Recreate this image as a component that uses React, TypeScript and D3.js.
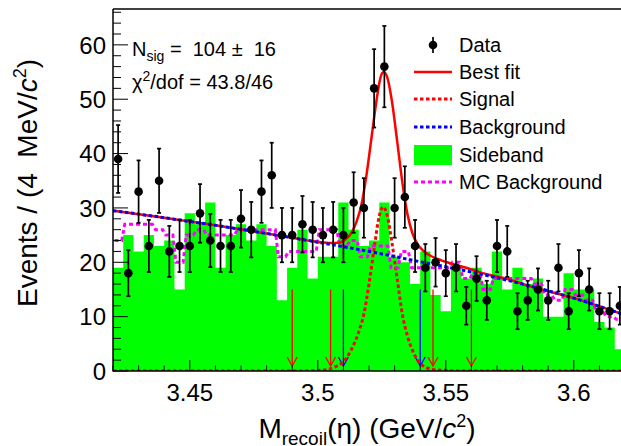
import React from "react";
import * as d3 from "d3";

// binning: 50 bins of 4 MeV from 3.42 to 3.62 GeV
const binLow = 3.42;
const binWidth = 0.004;

// data counts per bin
const dataCounts = [39, 18, 33, 23, 35, 22, 23, 23, 29, 24, 23, 23, 28, 26, 33, 36, 25, 25, 27, 26,
  25, 26, 25, 31, 30, 52, 56, 30, 32, 23, 19, 20, 18, 19, 12, 17, 13, 23, 22, 11,
  13, 15, 13, 19, 11, 18, 15, 11, 11, 12];

// sideband histogram
const sideband = [19, 25, 22, 25, 23, 24, 15, 29, 27, 31, 19, 25, 27, 24, 27, 23, 13, 19, 26, 17,
  21, 21, 31, 26, 23, 24, 31, 21, 20, 16, 22, 14, 11, 19, 17, 19, 16, 22, 15, 19,
  16, 17, 10, 10, 18, 15, 15, 9, 8, 4];

// MC background shape per bin
const mcBkg = [24, 27, 27, 27, 26, 25, 20, 25, 26, 25, 25, 25, 26, 26, 26, 26, 21, 22, 22, 22,
  26, 26, 23, 24, 21, 23, 23, 19, 22, 19, 19, 19, 19, 20, 17, 18, 15, 17, 17, 17,
  17, 16, 14, 13, 15, 14, 13, 11, 10, 9.5];

// fitted background curve
const bkgX = [3.42, 3.44, 3.46, 3.48, 3.50, 3.52, 3.54, 3.56, 3.58, 3.60, 3.62];
const bkgY = [29.5, 28.2, 26.8, 25.3, 23.7, 22.0, 20.1, 18.2, 16.0, 13.4, 10.3];

// best fit (total) curve
const fitX = [3.42, 3.44, 3.46, 3.48, 3.49, 3.50, 3.505, 3.508, 3.511, 3.513, 3.515, 3.517, 3.519,
  3.521, 3.523, 3.5245, 3.5257, 3.527, 3.529, 3.531, 3.533, 3.535, 3.537, 3.539, 3.541,
  3.544, 3.548, 3.552, 3.558, 3.566, 3.575, 3.58, 3.60, 3.62];
const fitY = [29.5, 28.2, 26.8, 25.3, 24.5, 23.75, 23.55, 23.6, 24.3, 25.3, 27.3, 30.5, 36.0,
  43.0, 50.0, 54.0, 55.0, 54.2, 49.5, 42.3, 34.8, 28.9, 25.3, 23.3, 22.2,
  21.2, 20.4, 19.8, 19.0, 17.8, 16.8, 16.0, 13.4, 10.3];

// signal component
const sigX = [3.42, 3.495, 3.50, 3.504, 3.507, 3.51, 3.512, 3.514, 3.516, 3.518, 3.52, 3.522, 3.524,
  3.5255, 3.527, 3.529, 3.531, 3.533, 3.535, 3.537, 3.539, 3.541, 3.545, 3.55, 3.555, 3.62];
const sigY = [0, 0, 0.1, 0.3, 0.8, 1.7, 3.0, 4.8, 7.2, 10.5, 16.0, 22.5, 28.5,
  30.2, 28.8, 23.5, 17.0, 10.5, 6.5, 3.8, 2.0, 1.0, 0.3, 0.1, 0, 0];

// signal-region / sideband arrows
const redArrows = [3.49, 3.505, 3.545, 3.56];
const blueArrows = [3.51, 3.54];
const arrowTop = 15;

const xTicks = [3.45, 3.5, 3.55, 3.6];
const yTicks = [0, 10, 20, 30, 40, 50, 60];

const legendItems = ["Data", "Best fit", "Signal", "Background", "Sideband", "MC Background"];

const font = "'Liberation Sans', Arial, Helvetica, sans-serif";

export default function App() {
  const W = 621, H = 446;
  const x = d3.scaleLinear().domain([3.42, 3.62]).range([113, 625]);
  const y = d3.scaleLinear().domain([0, 66.6]).range([371, 9]);

  const line = d3.line<[number, number]>()
    .x(d => x(d[0]))
    .y(d => y(d[1]))
    .curve(d3.curveMonotoneX);

  const bins = d3.range(dataCounts.length).map(i => binLow + i * binWidth);

  // sideband as a step area
  const stepPts: [number, number][] = [];
  sideband.forEach((v, i) => {
    stepPts.push([bins[i], v]);
    stepPts.push([bins[i] + binWidth, v]);
  });
  const area = d3.area<[number, number]>()
    .x(d => x(d[0]))
    .y0(y(0))
    .y1(d => y(d[1]));

  // MC background drawn as a smoothed step
  const mcPts: [number, number][] = [];
  mcBkg.forEach((v, i) => {
    mcPts.push([bins[i] + binWidth * 0.15, v]);
    mcPts.push([bins[i] + binWidth * 0.85, v]);
  });
  const lin = d3.line<[number, number]>().x(d => x(d[0])).y(d => y(d[1]));

  const zip = (a: number[], b: number[]) => a.map((v, i) => [v, b[i]] as [number, number]);

  const xMinor = d3.range(3.42, 3.6201, 0.01);
  const yMinor = d3.range(0, 66.6, 2);

  const arrow = (ax: number, color: string, k: string) => {
    const px = x(ax);
    const tip = y(0) - 5;
    return (
      <g key={k} stroke={color} strokeWidth={1.3} fill="none">
        <line x1={px} x2={px} y1={y(arrowTop)} y2={tip} />
        <path d={`M${px - 5},${tip - 9}L${px},${tip}L${px + 5},${tip - 9}`} />
      </g>
    );
  };

  const legX0 = 414, legX1 = 452, legTx = 459;
  const legY = [45, 72, 99, 127, 155, 182];

  return (
    <div style={{ position: "fixed", left: 0, top: 0 }}>
      <svg width={W} height={H} style={{ display: "block", background: "#fff" }} fontFamily={font}>
        <defs>
          <clipPath id="plot">
            <rect x={113} y={9} width={512} height={362} />
          </clipPath>
        </defs>
        <g clipPath="url(#plot)">
          <path d={area(stepPts) || ""} fill="#00ff00" />
          {redArrows.map((a, i) => arrow(a, "#ff0000", "r" + i))}
          {blueArrows.map((a, i) => arrow(a, "#0000ff", "b" + i))}
          <path d={line(zip(sigX, sigY)) || ""} fill="none" stroke="#ff0000" strokeWidth={3} strokeDasharray="3.5 2.5" />
          <path d={lin(mcPts) || ""} fill="none" stroke="#ff00ff" strokeWidth={3} strokeDasharray="4 3" />
          <path d={line(zip(fitX, fitY)) || ""} fill="none" stroke="#ff0000" strokeWidth={2.5} />
          <path d={line(zip(bkgX, bkgY)) || ""} fill="none" stroke="#0000ff" strokeWidth={3} strokeDasharray="3.5 2.5" />
          {dataCounts.map((n, i) => {
            const cx = x(bins[i] + binWidth / 2);
            const e = Math.sqrt(n);
            return (
              <g key={"d" + i} stroke="#000" strokeWidth={1.7}>
                <line x1={cx} x2={cx} y1={y(n + e)} y2={y(n - e)} />
                <line x1={cx - 2} x2={cx + 2} y1={y(n + e)} y2={y(n + e)} />
                <line x1={cx - 2} x2={cx + 2} y1={y(n - e)} y2={y(n - e)} />
                <circle cx={cx} cy={y(n)} r={4.3} fill="#000" stroke="none" />
              </g>
            );
          })}
        </g>

        {/* frame */}
        <g stroke="#000" fill="none">
          <line x1={113} x2={625} y1={9} y2={9} strokeWidth={1.5} />
          <line x1={113} x2={113} y1={9} y2={371.5} strokeWidth={1.5} />
          <line x1={113} x2={625} y1={371} y2={371} strokeWidth={1.5} />
          {xMinor.map((t, i) => {
            const major = xTicks.some(m => Math.abs(m - t) < 1e-6);
            return <line key={"xt" + i} x1={x(t)} x2={x(t)} y1={371} y2={371 - (major ? 11 : 5.5)} strokeWidth={1} />;
          })}
          {yMinor.map((t, i) => {
            const major = t % 10 === 0;
            return <line key={"yt" + i} x1={113} x2={113 + (major ? 15 : 8)} y1={y(t)} y2={y(t)} strokeWidth={1} />;
          })}
        </g>

        {/* tick labels */}
        <g fontSize={24} fill="#000">
          {xTicks.map(t => (
            <text key={"xl" + t} x={x(t)} y={401} textAnchor="middle">{t}</text>
          ))}
          {yTicks.map(t => (
            <text key={"yl" + t} x={106} y={y(t)} dy="0.36em" textAnchor="end">{t}</text>
          ))}
        </g>

        {/* axis titles */}
        <text x={367} y={438} fontSize={28} textAnchor="middle" xmlSpace="preserve">
          <tspan>M</tspan>
          <tspan fontSize={19} dy={7}>recoil</tspan>
          <tspan dy={-7}>(η) (GeV/</tspan>
          <tspan fontStyle="italic">c</tspan>
          <tspan fontSize={18} dy={-11}>2</tspan>
          <tspan dy={11}>)</tspan>
        </text>
        <text transform="translate(37,183) rotate(-90)" fontSize={28} textAnchor="middle" xmlSpace="preserve">
          <tspan>Events / (4  MeV/</tspan>
          <tspan fontStyle="italic">c</tspan>
          <tspan fontSize={18} dy={-11}>2</tspan>
          <tspan dy={11}>)</tspan>
        </text>

        {/* fit results */}
        <text x={132} y={56} fontSize={20} xmlSpace="preserve">
          <tspan>N</tspan>
          <tspan fontSize={14} dy={5}>sig</tspan>
          <tspan dy={-5}> =  104 ±  16</tspan>
        </text>
        <text x={132} y={89} fontSize={20}>
          <tspan>χ</tspan>
          <tspan fontSize={14} dy={-8}>2</tspan>
          <tspan dy={8}>/dof = 43.8/46</tspan>
        </text>

        {/* legend */}
        <g>
          <line x1={433} x2={433} y1={legY[0] - 8} y2={legY[0] + 8} stroke="#000" strokeWidth={1.7} />
          <circle cx={433} cy={legY[0]} r={4.3} fill="#000" />
          <line x1={legX0} x2={legX1} y1={legY[1]} y2={legY[1]} stroke="#ff0000" strokeWidth={2.5} />
          <line x1={legX0} x2={legX1} y1={legY[2]} y2={legY[2]} stroke="#ff0000" strokeWidth={3} strokeDasharray="3.5 2.5" />
          <line x1={legX0} x2={legX1} y1={legY[3]} y2={legY[3]} stroke="#0000ff" strokeWidth={3} strokeDasharray="3.5 2.5" />
          <rect x={legX0} y={legY[4] - 10} width={legX1 - legX0} height={20} fill="#00ff00" />
          <line x1={legX0} x2={legX1} y1={legY[5]} y2={legY[5]} stroke="#ff00ff" strokeWidth={3} strokeDasharray="4 3" />
          {legendItems.map((t, i) => (
            <text key={t} x={legTx} y={legY[i]} dy="0.36em" fontSize={20} fill="#000">{t}</text>
          ))}
        </g>
      </svg>
    </div>
  );
}
